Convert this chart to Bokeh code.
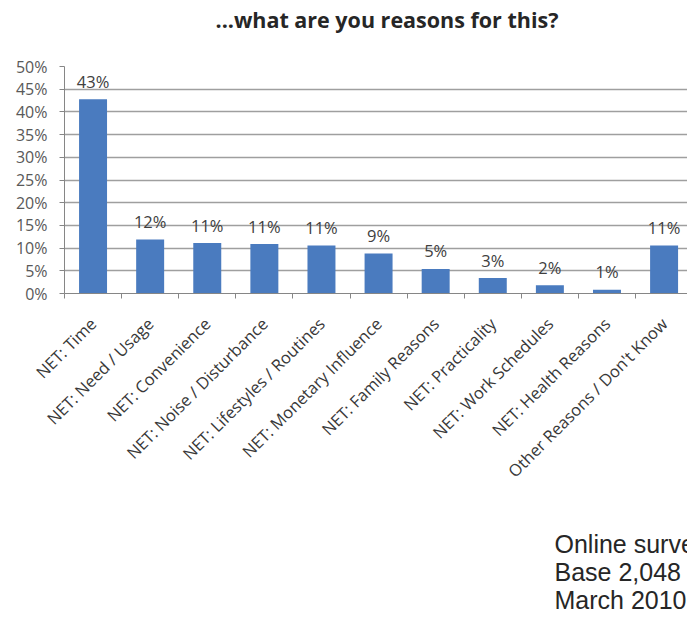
from bokeh.plotting import figure
from bokeh.models import Range1d, FixedTicker, PrintfTickFormatter, Title
from bokeh.core.properties import value
from bokeh.embed import file_html
from bokeh.resources import INLINE
import math

categories = [
    "NET: Time",
    "NET: Need / Usage",
    "NET: Convenience",
    "NET: Noise / Disturbance",
    "NET: Lifestyles / Routines",
    "NET: Monetary Influence",
    "NET: Family Reasons",
    "NET: Practicality",
    "NET: Work Schedules",
    "NET: Health Reasons",
    "Other Reasons / Don't Know",
]
values = [42.8, 11.9, 11.1, 10.9, 10.6, 8.8, 5.4, 3.4, 1.8, 0.8, 10.6]
value_labels = ["43%", "12%", "11%", "11%", "11%", "9%", "5%", "3%", "2%", "1%", "11%"]
y_ticks = [0, 5, 10, 15, 20, 25, 30, 35, 40, 45, 50]
title_text = "...what are you reasons for this?"
footnote = ["Online survey", "Base 2,048", "March 2010"]

xs = list(range(len(categories)))
boundaries = [i - 0.5 for i in range(len(categories) + 1)]

FONT = "Open Sans"
BAR = "#4a7bbf"
GRID = "#9f9f9f"

p = figure(
    width=687, height=618,
    x_range=Range1d(-0.5, 10.41), y_range=Range1d(0, 50),
    output_backend="svg", toolbar_location=None,
    title_location=None,
    min_border_left=64, min_border_right=0,
    min_border_top=66, min_border_bottom=325,
)
p.outline_line_color = None
p.background_fill_color = "white"
p.border_fill_color = "white"

p.vbar(x=xs, top=values, width=0.49, fill_color=BAR, line_color=None)

p.text(x=xs, y=values, text=value_labels, text_font=value(FONT),
       text_font_size="16.5px", text_color="#404040",
       text_align="center", text_baseline="middle", y_offset=-18)

# axes
xa = p.xaxis[0]
xa.ticker = FixedTicker(ticks=xs, minor_ticks=boundaries)
xa.major_label_overrides = {i: c for i, c in enumerate(categories)}
xa.major_label_orientation = math.pi / 4
xa.major_tick_out = 0
xa.major_tick_in = 0
xa.minor_tick_out = 5
xa.minor_tick_in = 0
xa.minor_tick_line_color = "#868686"
xa.axis_line_color = "#868686"
xa.major_label_text_font = FONT
xa.major_label_text_font_size = "16.5px"
xa.major_label_text_color = "#383838"
xa.major_label_standoff = 22

ya = p.yaxis[0]
ya.ticker = FixedTicker(ticks=y_ticks)
ya.formatter = PrintfTickFormatter(format="%d%%")
ya.major_tick_out = 5
ya.major_tick_in = 0
ya.minor_tick_line_color = None
ya.major_tick_line_color = "#868686"
ya.axis_line_color = "#868686"
ya.major_label_text_font = FONT
ya.major_label_text_font_size = "16px"
ya.major_label_text_color = "#595959"
ya.major_label_standoff = 12

p.xgrid.grid_line_color = None
p.ygrid.ticker = FixedTicker(ticks=y_ticks)
p.ygrid.grid_line_color = GRID
p.ygrid.grid_line_width = 1.5

# title: spacer next to the frame, then the title text above it
p.add_layout(Title(text=" ", text_font_size="1px", standoff=30), "above")
p.add_layout(Title(text=title_text, align="left", offset=151, standoff=0,
                   text_font=FONT, text_font_style="bold",
                   text_font_size="21.5px", text_color="#262626"), "above")

# spacer, then footnote lines as titles below the x axis
p.add_layout(Title(text=" ", text_font_size="1px", standoff=32), "below")
for line in footnote:
    p.add_layout(Title(text=line, align="left", offset=490,
                       text_font="Liberation Sans", text_font_style="normal",
                       text_font_size="25px", text_color="#262626",
                       standoff=-2), "below")

open("out.html", "w").write(file_html(p, INLINE))
